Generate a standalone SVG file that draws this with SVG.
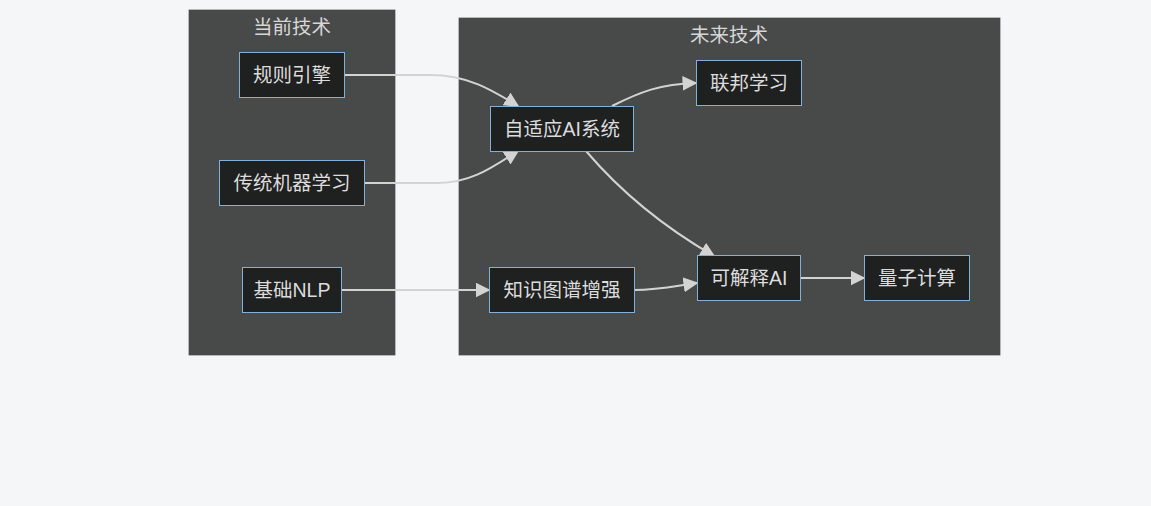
<svg xmlns="http://www.w3.org/2000/svg" width="1151" height="506" viewBox="0 0 1151 506">
<style>
.cluster{fill:#484949;stroke:rgba(255,255,255,0.25);stroke-width:1}
.ctitle{fill:#d6d6d6;font-family:"Liberation Sans","Noto Sans CJK SC",sans-serif;font-size:19.5px;text-anchor:middle}
.node rect{fill:#1f2020;stroke:#81B1DB;stroke-width:1}
.node text{fill:#dcdcdc;font-family:"Liberation Sans","Noto Sans CJK SC",sans-serif;font-size:19.5px;text-anchor:middle;dominant-baseline:central}
.edge{fill:none;stroke:#d3d3d3;stroke-width:2;marker-end:url(#arr)}
</style>
<defs>
<marker id="arr" viewBox="0 0 10 10" refX="9" refY="5" markerWidth="7.5" markerHeight="7.5" markerUnits="strokeWidth" orient="auto">
<path d="M0,0 L10,5 L0,10 z" fill="#d3d3d3"/>
</marker>
</defs>
<rect width="1151" height="506" fill="#f5f6f8"/>
<g id="cluster-current">
<rect class="cluster" x="188.5" y="9.5" width="207" height="346"/>
<text class="ctitle" x="292" y="34">当前技术</text>
</g>
<g id="cluster-future">
<rect class="cluster" x="458.5" y="17.5" width="542" height="338"/>
<text class="ctitle" x="729" y="42">未来技术</text>
</g>
<g id="edges">
<path class="edge" d="M344,75 L430,75 C468,75 492,90 518,106"/>
<path class="edge" d="M364,183 L438,183 C472,183 494,166 518,151"/>
<path class="edge" d="M612,106 C640,92 660,84 696,83"/>
<path class="edge" d="M586,151 C615,185 655,222 714,256"/>
<path class="edge" d="M341,290 L489,290"/>
<path class="edge" d="M634,290 C660,290 675,286 697,283"/>
<path class="edge" d="M801,278 L864,278"/>
</g>
<g id="n-rule" class="node"><rect x="239.5" y="52.5" width="105" height="45"/><text x="292" y="75">规则引擎</text></g>
<g id="n-ml" class="node"><rect x="219.5" y="160.5" width="145" height="45"/><text x="292" y="183">传统机器学习</text></g>
<g id="n-nlp" class="node"><rect x="242.5" y="267.5" width="99" height="45"/><text x="292" y="290">基础NLP</text></g>
<g id="n-adaptive" class="node"><rect x="490.5" y="106.5" width="143" height="45"/><text x="562" y="129">自适应AI系统</text></g>
<g id="n-fed" class="node"><rect x="696.5" y="60.5" width="105" height="45"/><text x="749" y="83">联邦学习</text></g>
<g id="n-kg" class="node"><rect x="489.5" y="267.5" width="145" height="45"/><text x="562" y="290">知识图谱增强</text></g>
<g id="n-xai" class="node"><rect x="697.5" y="255.5" width="103" height="45"/><text x="749" y="278">可解释AI</text></g>
<g id="n-quantum" class="node"><rect x="864.5" y="255.5" width="105" height="45"/><text x="917" y="278">量子计算</text></g>
</svg>
